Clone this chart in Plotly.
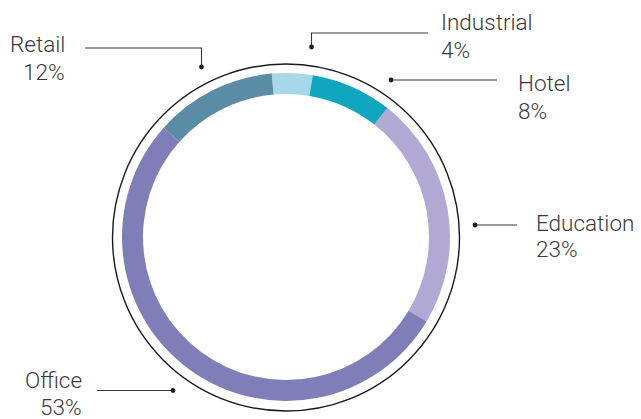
import plotly.graph_objects as go

categories = ["Industrial", "Hotel", "Education", "Office", "Retail"]
values = [4, 8, 23, 53, 12]
colors = ["#a6d8ea", "#10a6c0", "#b1a8d4", "#7f7eb8", "#5a8ca6"]

W, H = 641, 419
cx, cy, R, r_in = 286, 237, 164, 143

fig = go.Figure()
fig.add_trace(go.Pie(
    labels=categories, values=values, sort=False, direction="clockwise",
    rotation=-5, hole=r_in / R, textinfo="none", hoverinfo="label+percent",
    marker=dict(colors=colors, line=dict(width=0)), showlegend=False,
    domain=dict(x=[(cx - R) / W, (cx + R) / W],
                y=[(H - cy - R) / H, (H - cy + R) / H]),
))

# pixel-space axes for decorations
fig.update_xaxes(range=[0, W], visible=False, fixedrange=True)
fig.update_yaxes(range=[H, 0], visible=False, fixedrange=True)
fig.add_trace(go.Scatter(x=[0], y=[0], mode="markers", marker=dict(opacity=0),
                         showlegend=False, hoverinfo="skip"))

shapes = []
Rb = 173.5
shapes.append(dict(type="circle", xref="x", yref="y", x0=cx - Rb, x1=cx + Rb,
                   y0=cy + 0.5 - Rb, y1=cy + 0.5 + Rb,
                   line=dict(color="#1a1a1a", width=1.4)))

line_col = "#3a3a3a"
leaders = [
    ([(85, 48), (201.5, 48), (201.5, 67)], (201.5, 67)),      # Retail
    ([(428, 33), (311.5, 33), (311.5, 47)], (311.5, 47)),     # Industrial
    ([(497, 80), (391, 80)], (391, 80)),                      # Hotel
    ([(517, 225), (475, 225)], (475, 225)),                   # Education
    ([(97, 390.5), (173, 390.5)], (173, 390.5)),              # Office
]
for pts, dot in leaders:
    path = "M " + " L ".join(f"{x},{y}" for x, y in pts)
    shapes.append(dict(type="path", xref="x", yref="y", path=path,
                       line=dict(color=line_col, width=1.1)))
    d = 2.4
    shapes.append(dict(type="circle", xref="x", yref="y",
                       x0=dot[0] - d, x1=dot[0] + d, y0=dot[1] - d, y1=dot[1] + d,
                       fillcolor="#1a1a1a", line=dict(width=0)))

pct_labels = [f"{v}%" for v in values]
label_pos = {
    "Retail": (67, 44, 72, "right"),
    "Industrial": (439, 22, 50, "left"),
    "Hotel": (516, 83, 111, "left"),
    "Education": (534, 223, 249, "left"),
    "Office": (84, 380, 407, "right"),
}
font = dict(family="Roboto", size=22.5, color="#3a3a3a", weight=300)
annotations = []
for cat, pct in zip(categories, pct_labels):
    x, y1, y2, xa = label_pos[cat]
    annotations.append(dict(x=x, y=y1, xref="x", yref="y", text=cat, showarrow=False,
                            xanchor=xa, yanchor="middle", font=font))
    annotations.append(dict(x=x, y=y2, xref="x", yref="y", text=pct, showarrow=False,
                            xanchor=xa, yanchor="middle", font=font))

fig.update_layout(
    width=W, height=H, margin=dict(l=0, r=0, t=0, b=0),
    paper_bgcolor="white", plot_bgcolor="rgba(0,0,0,0)",
    shapes=shapes, annotations=annotations,
    xaxis=dict(domain=[0, 1]), yaxis=dict(domain=[0, 1]),
)
fig.write_html("out.html", config={"displayModeBar": False},
               post_script="document.body.style.margin='0';document.body.style.overflow='hidden';")
